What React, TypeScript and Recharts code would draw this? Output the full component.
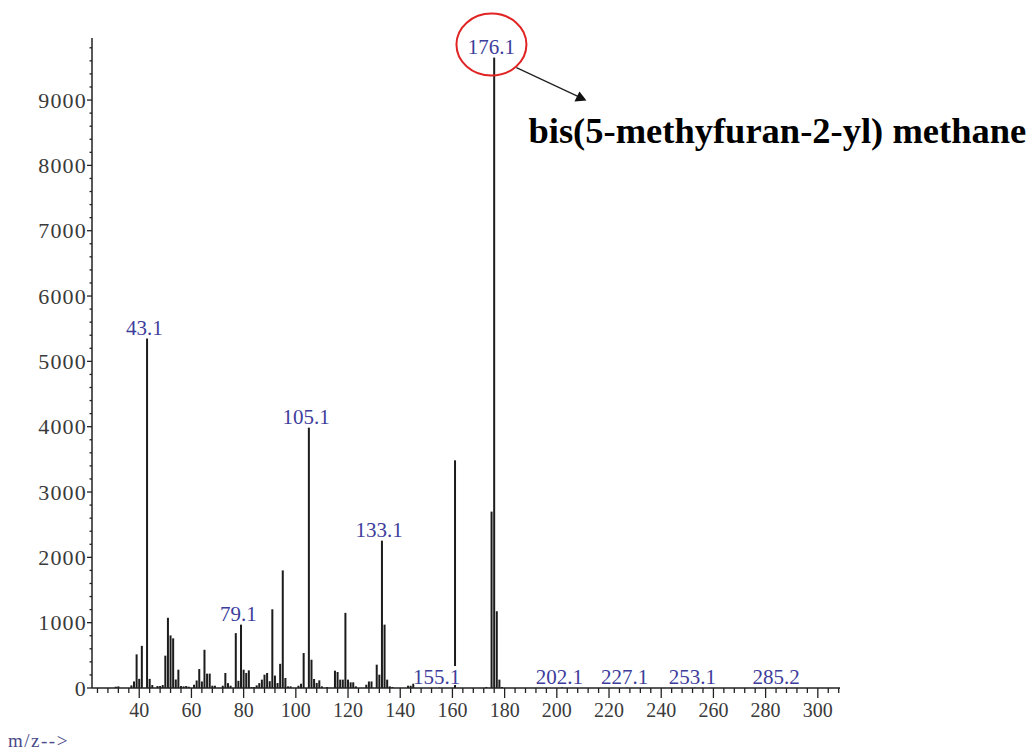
import React from "react";
import { ComposedChart, Bar, Scatter, XAxis, YAxis } from "recharts";

const mzValues = [
  31, 32, 37, 38, 39, 40, 41, 43, 44, 45, 47, 48, 49, 50, 51, 52, 53, 54, 55, 56, 57, 58, 59,
  61, 62, 63, 64, 65, 66, 67, 68, 69, 72, 73, 74, 75, 77, 78, 79, 80, 81, 82, 83, 84, 85, 86,
  87, 88, 89, 90, 91, 92, 93, 94, 95, 96, 97, 98, 101, 102, 103, 105, 106, 107, 108, 109, 110,
  112, 115, 116, 117, 118, 119, 120, 121, 122, 123, 127, 128, 129, 131, 132, 133, 134, 135,
  136, 137, 143, 144, 145, 155, 161, 173, 175, 176, 177, 178, 179, 202, 227, 253, 285,
];
const intensities = [
  20, 25, 40, 100, 515, 140, 645, 5350, 140, 45, 30, 30, 45, 495, 1075, 805, 760, 130, 280, 30, 25, 30, 20,
  50, 115, 290, 100, 585, 220, 220, 35, 35, 35, 230, 75, 35, 840, 110, 970, 280, 230, 270, 15, 15, 40, 75,
  128, 204, 230, 104, 1205, 190, 76, 370, 1800, 153, 25, 25, 35, 66, 535, 3985, 433, 138, 77, 117, 25,
  15, 265, 245, 128, 128, 1150, 128, 87, 87, 25, 50, 100, 100, 357, 204, 2255, 970, 128,
  25, 15, 35, 35, 66, 5, 3485, 15, 2700, 9650, 1175, 128, 15, 8, 5, 5, 4,
];

const labelMz = [43.1, 79.1, 105.1, 133.1, 155.1, 176.1, 202.1, 227.1, 253.1, 285.2];
const labelText = ["43.1", "79.1", "105.1", "133.1", "155.1", "176.1", "202.1", "227.1", "253.1", "285.2"];
const labelHeights = [5350, 970, 3985, 2255, 0, 9650, 0, 0, 0, 0];

const xTicks: number[] = [];
for (let v = 24; v <= 308; v += 4) xTicks.push(v);
const yTicks: number[] = [];
for (let v = 0; v <= 9800; v += 200) yTicks.push(v);

const compoundName = "bis(5-methyfuran-2-yl) methane";
const xAxisTitle = "m/z-->";

const data = mzValues.map((mz, i) => ({ mz, intensity: intensities[i] }));
const labelData = labelMz.map((mz, i) => ({ mz, intensity: labelHeights[i], text: labelText[i] }));

const SERIF = "'Liberation Serif', 'DejaVu Serif', serif";
const LABEL_BLUE = "#3d3d9c";

const XTick = (props: any) => {
  const { x, y, payload } = props;
  const v = payload.value;
  const major = v % 20 === 0;
  return (
    <g>
      <line x1={x} x2={x} y1={y} y2={y + (major ? 10 : 5)} stroke="#222" strokeWidth={1.3} />
      {major && (
        <text x={x} y={y + 29} textAnchor="middle" fontSize={20} fill="#3a3a3a" fontFamily={SERIF}>
          {v}
        </text>
      )}
    </g>
  );
};

const YTick = (props: any) => {
  const { x, y, payload } = props;
  const v = payload.value;
  const major = v % 1000 === 0;
  return (
    <g>
      <line x1={x} x2={x - (major ? 5 : 2.5)} y1={y} y2={y} stroke="#222" strokeWidth={1.3} />
      {major && (
        <text
          x={x - 5}
          y={y}
          dy="0.35em"
          textAnchor="end"
          fontSize={22}
          letterSpacing={1.2}
          fill="#3a3a3a"
          fontFamily={SERIF}
        >
          {v}
        </text>
      )}
    </g>
  );
};

const PeakBar = (props: any) => {
  const { x, y, width, height } = props;
  if (x == null || y == null || !isFinite(height)) return null;
  const cx = x + width / 2;
  return <rect x={cx - 1} y={y} width={2} height={Math.max(height, 0)} fill="#1c1c1c" />;
};

const PeakLabel = (props: any) => {
  const { cx, cy, payload } = props;
  if (cx == null || cy == null) return null;
  const text: string = payload.text;
  const w = text.length * 9.6 + 2;
  const circled = text === "176.1";
  return (
    <g>
      <rect x={cx - w / 2} y={cy - 22} width={w} height={19} fill="#fff" />
      <text x={cx - 3} y={cy - 4} textAnchor="middle" fontSize={21} fill={LABEL_BLUE} fontFamily={SERIF}>
        {text}
      </text>
      {circled && (
        <g>
          <ellipse cx={cx - 3} cy={cy - 13} rx={35} ry={31} fill="none" stroke="#e02424" strokeWidth={2} />
          <line x1={cx + 22} y1={cy + 10} x2={cx + 84} y2={cy + 39} stroke="#222" strokeWidth={1.3} />
          <polygon
            points={`${cx + 92},${cy + 43} ${cx + 80},${cy + 44} ${cx + 85},${cy + 34}`}
            fill="#111"
          />
          <text x={cx + 34} y={cy + 85} fontSize={36.5} fontWeight="bold" fill="#000" fontFamily={SERIF}>
            {compoundName}
          </text>
        </g>
      )}
    </g>
  );
};

export default function App() {
  return (
    <div style={{ position: "absolute", left: 0, top: 0, width: 1028, height: 751, background: "#fff" }}>
      <ComposedChart
        width={1028}
        height={751}
        data={data}
        margin={{ top: 38, right: 188, bottom: 0, left: 0 }}
        style={{ overflow: "visible" }}
      >
        <XAxis
          dataKey="mz"
          type="number"
          domain={[21.9, 308.5]}
          ticks={xTicks}
          interval={0}
          tick={<XTick />}
          tickLine={false}
          tickSize={0}
          tickMargin={0}
          height={63}
          axisLine={{ stroke: "#222", strokeWidth: 1.5 }}
        />
        <YAxis
          type="number"
          domain={[0, 9950]}
          ticks={yTicks}
          interval={0}
          tick={<YTick />}
          tickLine={false}
          tickSize={0}
          tickMargin={0}
          width={92}
          axisLine={{ stroke: "#222", strokeWidth: 1.5 }}
        />
        <Bar dataKey="intensity" barSize={2} shape={<PeakBar />} isAnimationActive={false} />
        <Scatter data={labelData} dataKey="intensity" shape={<PeakLabel />} isAnimationActive={false} />
      </ComposedChart>
      <div
        style={{
          position: "absolute",
          left: 8,
          top: 731,
          fontFamily: SERIF,
          fontSize: 19,
          letterSpacing: 1.5,
          color: "#4a4a8a",
          lineHeight: "20px",
        }}
      >
        {xAxisTitle}
      </div>
    </div>
  );
}
